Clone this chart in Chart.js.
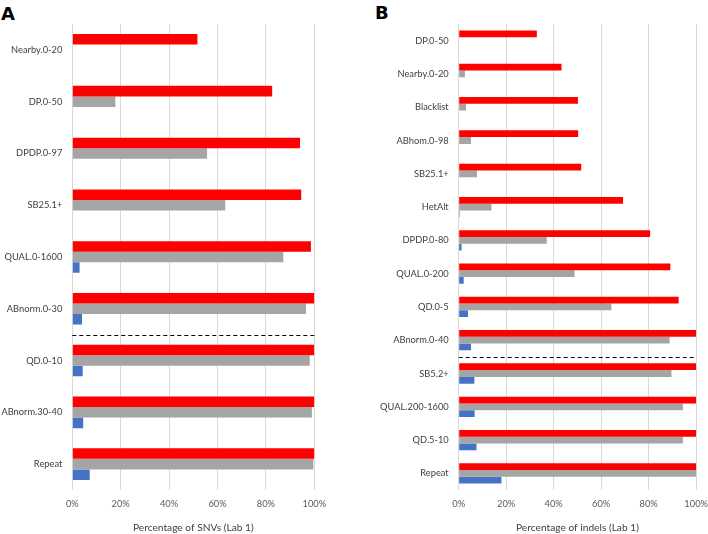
<!DOCTYPE html>
<html>
<head>
<meta charset="utf-8">
<script src="https://cdn.jsdelivr.net/npm/chart.js@4.4.1/dist/chart.umd.min.js"></script>
<style>
  html, body { margin: 0; padding: 0; background: #ffffff; }
  body { width: 708px; height: 534px; position: relative; overflow: hidden; }
  .panel { position: absolute; top: 0; }
  .letter { position: absolute; font-family: "DejaVu Sans", sans-serif; font-weight: bold; font-size: 18px; color: #000; line-height: 1; }
</style>
</head>
<body>
<div class="letter" style="left:1px; top:5px;">A</div>
<div class="letter" style="left:375px; top:4px;">B</div>
<div class="panel" style="left:0px; width:335px; height:534px;"><canvas id="chartA" width="335" height="534"></canvas></div>
<div class="panel" style="left:344px; width:364px; height:534px;"><canvas id="chartB" width="364" height="534"></canvas></div>
<script>
// ---- Panel A data (SNVs) ----
const categoriesA = ["Nearby.0-20", "DP.0-50", "DPDP.0-97", "SB25.1+", "QUAL.0-1600", "ABnorm.0-30", "QD.0-10", "ABnorm.30-40", "Repeat"];
const redA  = [51.7, 82.6, 94.1, 94.6, 98.6, 100, 100, 100, 100];
const grayA = [null, 17.8, 55.7, 63.2, 87.2, 96.6, 98.1, 99.0, 99.6];
const blueA = [null, null, null, null, 3.0, 4.0, 4.3, 4.5, 7.2];
const dividerAfterA = "ABnorm.0-30";
const axisTitleA = "Percentage of SNVs (Lab 1)";

// ---- Panel B data (indels) ----
const categoriesB = ["DP.0-50", "Nearby.0-20", "Blacklist", "ABhom.0-98", "SB25.1+", "HetAlt", "DPDP.0-80", "QUAL.0-200", "QD.0-5", "ABnorm.0-40", "SB5.2+", "QUAL.200-1600", "QD.5-10", "Repeat"];
const redB  = [32.9, 43.3, 50.2, 50.3, 51.6, 69.2, 80.6, 89.1, 92.6, 100, 100, 100, 100, 100];
const grayB = [null, 2.6, 3.1, 5.2, 7.7, 13.8, 37.1, 48.8, 64.3, 88.8, 89.6, 94.4, 94.4, 100];
const blueB = [null, null, null, null, null, 0.4, 1.2, 2.1, 3.9, 5.2, 6.6, 6.7, 7.5, 18.0];
const dividerAfterB = "ABnorm.0-40";
const axisTitleB = "Percentage of indels (Lab 1)";

// ---- Shared axis ticks ----
const tickValues = [0, 20, 40, 60, 80, 100];
const tickLabels = ["0%", "20%", "40%", "60%", "80%", "100%"];

const COLORS = { red: "#FF0000", gray: "#A5A5A5", blue: "#4472C4" };
const FONT = "Lato, 'Open Sans', sans-serif";

const dividerPlugin = {
  id: "divider",
  afterDatasetsDraw(chart, args, opts) {
    const ys = chart.scales.y, xs = chart.scales.x;
    const idx = chart.data.labels.indexOf(opts.after);
    if (idx < 0) return;
    const y = Math.round((ys.getPixelForValue(idx) + ys.getPixelForValue(idx + 1)) / 2) + 0.5;
    const ctx = chart.ctx;
    ctx.save();
    ctx.strokeStyle = "#000000";
    ctx.lineWidth = 1;
    ctx.setLineDash([4, 3]);
    ctx.beginPath();
    ctx.moveTo(xs.getPixelForValue(0), y);
    ctx.lineTo(xs.getPixelForValue(100), y);
    ctx.stroke();
    ctx.restore();
  }
};

function makeChart(id, labels, red, gray, blue, divider, title, yWidth, padRight) {
  return new Chart(document.getElementById(id), {
    type: "bar",
    data: {
      labels: labels,
      datasets: [
        { data: red, backgroundColor: COLORS.red },
        { data: gray, backgroundColor: COLORS.gray },
        { data: blue, backgroundColor: COLORS.blue }
      ]
    },
    options: {
      indexAxis: "y",
      responsive: false,
      animation: false,
      devicePixelRatio: 1,
      datasets: { bar: { barPercentage: 1.0, categoryPercentage: 0.61, borderWidth: 0 } },
      layout: { padding: { top: 24, left: 0, right: padRight, bottom: 0 } },
      plugins: {
        legend: { display: false },
        tooltip: { enabled: false },
        divider: { after: divider }
      },
      scales: {
        x: {
          min: 0, max: 100,
          afterBuildTicks(scale) { scale.ticks = tickValues.map(v => ({ value: v })); },
          afterFit(scale) { scale.height = 44; },
          ticks: {
            padding: 0,
            color: "#595959",
            font: { family: FONT, size: 9.3 },
            callback: (v) => tickLabels[tickValues.indexOf(v)]
          },
          grid: { color: "#D9D9D9", lineWidth: 1, drawTicks: true, tickLength: 8, tickColor: "rgba(0,0,0,0)" },
          border: { display: false },
          title: {
            display: true, text: title, color: "#404040",
            font: { family: FONT, size: 10.2 },
            padding: { top: 0, bottom: 0 }
          }
        },
        y: {
          afterFit(scale) { scale.width = yWidth; },
          ticks: { padding: 10, color: "#404040", font: { family: FONT, size: 9.3 } },
          grid: { display: false, drawTicks: false },
          border: { display: false }
        }
      }
    },
    plugins: [dividerPlugin]
  });
}

makeChart("chartA", categoriesA, redA, grayA, blueA, dividerAfterA, axisTitleA, 72.3, 20.7);
makeChart("chartB", categoriesB, redB, grayB, blueB, dividerAfterB, axisTitleB, 114.7, 11);
</script>
</body>
</html>
